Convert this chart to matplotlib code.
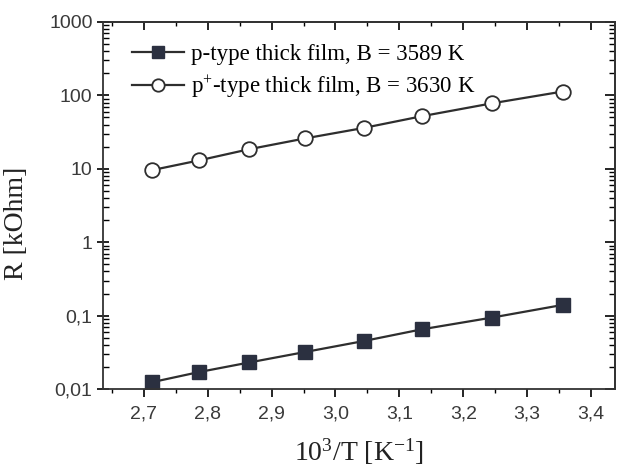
import numpy as np
import matplotlib
matplotlib.use("Agg")
import matplotlib.pyplot as plt
from matplotlib.ticker import FixedLocator, LogLocator, NullFormatter, MultipleLocator

# data
inv_T = [2.713, 2.786, 2.865, 2.953, 3.044, 3.135, 3.245, 3.356]
R_p = [0.0124, 0.017, 0.023, 0.032, 0.045, 0.065, 0.094, 0.14]
R_pplus = [9.6, 13.0, 18.5, 26.0, 36.0, 52.0, 78.0, 113.0]

label_p = "p-type thick film, B = 3589 K"
label_pplus = "p$^{+}$-type thick film, B = 3630 K"

x_ticks = [2.7, 2.8, 2.9, 3.0, 3.1, 3.2, 3.3, 3.4]
x_ticklabels = ["2,7", "2,8", "2,9", "3,0", "3,1", "3,2", "3,3", "3,4"]
y_ticks = [0.01, 0.1, 1, 10, 100, 1000]
y_ticklabels = ["0,01", "0,1", "1", "10", "100", "1000"]

serif = "Liberation Serif"
sans = "Liberation Sans"
plt.rcParams["mathtext.fontset"] = "custom"
plt.rcParams["mathtext.rm"] = serif
plt.rcParams["mathtext.it"] = serif + ":italic"

fig = plt.figure(figsize=(6.22, 4.66), dpi=100)
ax = fig.add_axes([0.1656, 0.1652, 0.8231, 0.7876])

line_col = "#2e2e2e"
ax.plot(inv_T, R_p, "-s", color=line_col, lw=1.6, ms=9.5,
        mfc="#2b3040", mec="#2b3040", label=label_p)
ax.plot(inv_T, R_pplus, "-o", color=line_col, lw=1.6, ms=10.5,
        mfc="white", mec=line_col, mew=1.3, label=label_pplus)

ax.set_yscale("log")
ax.set_xlim(2.636, 3.4376)
ax.set_ylim(0.01, 1000)

ax.xaxis.set_major_locator(FixedLocator(x_ticks))
ax.set_xticklabels(x_ticklabels)
ax.xaxis.set_minor_locator(MultipleLocator(0.05))
ax.yaxis.set_major_locator(FixedLocator(y_ticks))
ax.set_yticklabels(y_ticklabels)
ax.yaxis.set_minor_locator(LogLocator(base=10, subs=np.arange(2, 10)))
ax.yaxis.set_minor_formatter(NullFormatter())

for lab in ax.get_xticklabels() + ax.get_yticklabels():
    lab.set_fontfamily(sans)
    lab.set_fontsize(14)
    lab.set_color("#3a3a3a")

ax.tick_params(axis="x", which="major", direction="out", length=6, width=1.2, pad=6)
ax.tick_params(axis="x", which="minor", direction="out", length=3, width=1)
ax.tick_params(axis="y", which="major", direction="inout", length=9, width=1.2, pad=3)
ax.tick_params(axis="y", which="minor", direction="in", length=4, width=1)

# top and right: ticks pointing inward, no labels
top = ax.secondary_xaxis("top")
top.xaxis.set_major_locator(FixedLocator(x_ticks))
top.xaxis.set_minor_locator(MultipleLocator(0.05))
top.tick_params(which="major", direction="in", length=6, width=1.2, labeltop=False)
top.tick_params(which="minor", direction="in", length=3, width=1)
right = ax.secondary_yaxis("right")
right.yaxis.set_major_locator(FixedLocator(y_ticks))
right.yaxis.set_minor_locator(LogLocator(base=10, subs=np.arange(2, 10)))
right.yaxis.set_minor_formatter(NullFormatter())
right.tick_params(which="major", direction="in", length=7, width=1.2, labelright=False)
right.tick_params(which="minor", direction="in", length=4, width=1)

for s in list(ax.spines.values()) + [top.spines["top"], right.spines["right"]]:
    s.set_linewidth(1.3)
    s.set_color("#333333")

ax.set_xlabel("10$^{3}$/T [K$^{-1}$]", fontsize=20, fontfamily=serif,
              color="#222222", labelpad=10)
ax.set_ylabel("R [kOhm]", fontsize=20, fontfamily=serif, color="#222222")
ax.yaxis.set_label_coords(-0.145, 0.45)

leg = ax.legend(loc="upper left", frameon=False, prop={"family": serif, "size": 16.5},
                handlelength=2.3, handletextpad=0.3, labelspacing=0.35,
                borderaxespad=0.4, bbox_to_anchor=(0.02, 0.99), markerscale=0.85)

fig.savefig("out.png", dpi=100)
